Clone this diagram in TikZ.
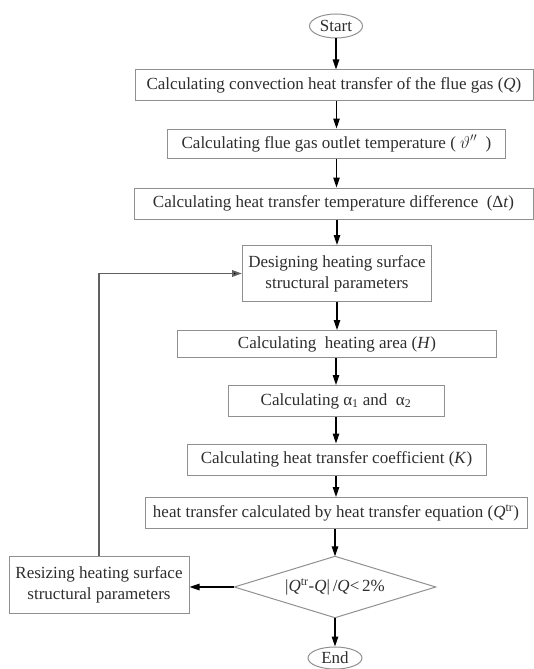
\documentclass[tikz,border=0pt]{standalone}
\usepackage{fontspec}
\setmainfont{Liberation Serif}
\usetikzlibrary{arrows.meta,shapes.geometric}
\definecolor{txt}{HTML}{2E2E2E}
\definecolor{frame}{HTML}{909090}
\definecolor{loopc}{HTML}{606060}
\begin{document}
\begin{tikzpicture}[x=1pt,y=-1pt,
  every node/.style={font=\fontsize{17}{21}\selectfont, text=txt},
  box/.style={draw=frame, line width=1pt, rectangle, inner sep=0pt, align=center},
  term/.style={draw=frame, line width=1pt, ellipse, inner sep=0pt},
  decis/.style={rectangle, inner sep=0pt},
  frameline/.style={draw=frame, line width=1pt, line join=miter},
  arr/.style={draw=black, line width=1.2pt, -{Triangle[length=10pt,width=6.5pt]}},
  backline/.style={draw=loopc, line width=1.8pt, -{Triangle[length=10pt,width=6.5pt,fill=black]}}]
\useasboundingbox (0,0) rectangle (534,669);
\node[term, minimum width=53pt, minimum height=24pt] (start) at (336,26) {Start};
\node[box, minimum width=398pt, minimum height=30pt] (b1) at (334,85) {Calculating convection heat transfer of the flue gas (\textit{Q})};
\node[box, minimum width=338pt, minimum height=29pt] (b2) at (336.5,143.5) {Calculating flue gas outlet temperature ( $\vartheta''$ \ )};
\node[box, minimum width=399pt, minimum height=31pt] (b3) at (333.5,203.5) {Calculating heat transfer temperature difference \ (Δ\textit{t})};
\node[box, minimum width=189pt, minimum height=56pt] (b4) at (337,273.5) {Designing heating surface\\structural parameters};
\node[box, minimum width=319pt, minimum height=27pt] (b5) at (337,344) {Calculating\ \ heating area (\textit{H})};
\node[box, minimum width=216pt, minimum height=31pt] (b6) at (336,401) {Calculating α\textsubscript{1} and \ α\textsubscript{2}};
\node[box, minimum width=299pt, minimum height=31pt] (b7) at (336.5,459.5) {Calculating heat transfer coefficient (\textit{K})};
\node[box, minimum width=382pt, minimum height=31pt] (b8) at (336,513) {heat transfer calculated by heat transfer equation (\textit{Q}\textsuperscript{tr})};
\node[decis, minimum width=201pt, minimum height=61pt] (dia) at (335,587) {|\textit{Q}\textsuperscript{tr}-\textit{Q}|\,/\textit{Q}<\,2\%};
\draw[frameline] (dia.north) -- (dia.east) -- (dia.south) -- (dia.west) -- cycle;
\node[box, minimum width=180pt, minimum height=57pt] (rs) at (99,584.5) {Resizing heating surface\\structural parameters};
\node[term, minimum width=54pt, minimum height=22pt] (end) at (335,658) {End};

\draw[arr] (start.south) -- (start.south |- b1.north);
\draw[arr] (b2.north |- b1.south) -- (b2.north);
\draw[arr] (b2.south) -- (b2.south |- b3.north);
\draw[arr] (b4.north |- b3.south) -- (b4.north);
\draw[arr] (b4.south) -- (b4.south |- b5.north);
\draw[arr] (b6.north |- b5.south) -- (b6.north);
\draw[arr] (b6.south) -- (b6.south |- b7.north);
\draw[arr] (b8.north |- b7.south) -- (b8.north);
\draw[arr] (dia.north |- b8.south) -- (dia.north);
\draw[arr] (dia.south) -- (end.north);
\draw[arr] (dia.west) -- (dia.west -| rs.east);
\draw[backline] (rs.north) -- (rs.north |- b4.west) -- (b4.west);
\end{tikzpicture}
\end{document}
